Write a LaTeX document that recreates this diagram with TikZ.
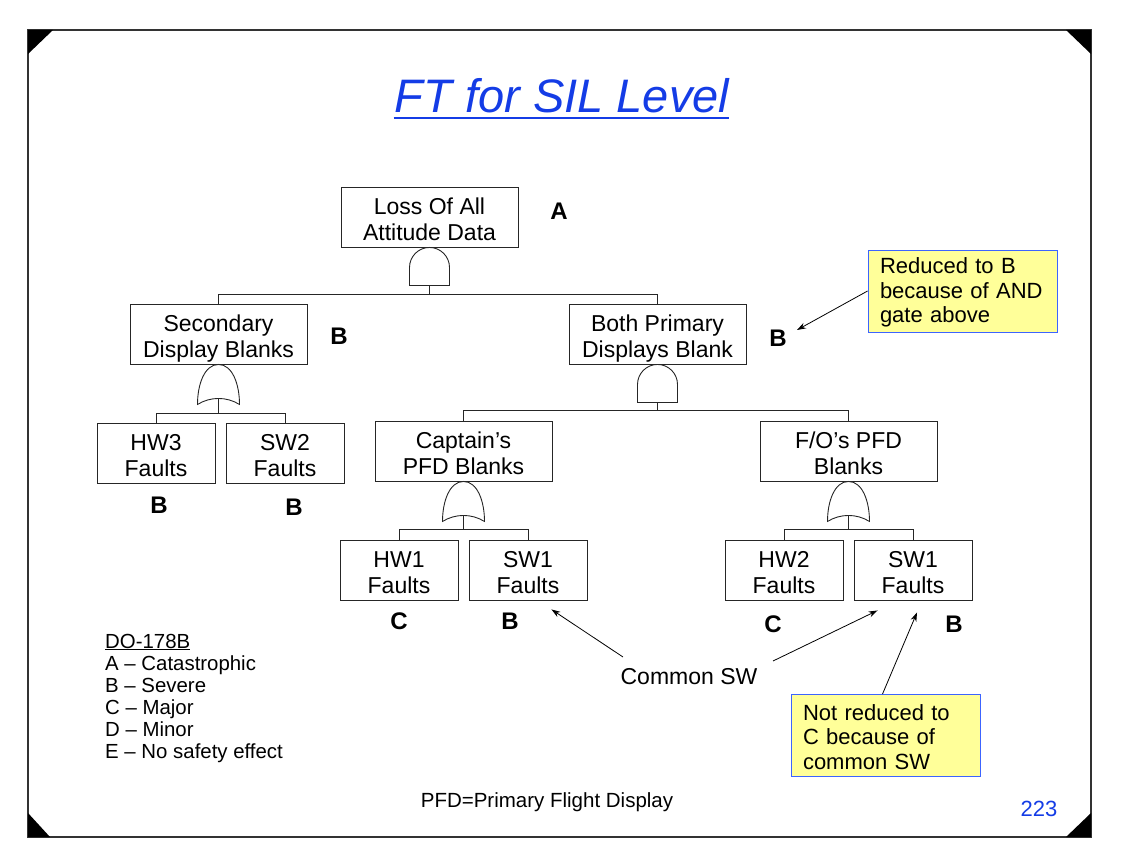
\documentclass[tikz,border=0pt]{standalone}
\usepackage{fontspec}
\setmainfont{Liberation Sans}
\usetikzlibrary{arrows.meta,calc}
\definecolor{ttlblue}{RGB}{20,60,230}
\definecolor{callfill}{RGB}{255,255,153}
\definecolor{callbord}{RGB}{60,100,255}
\newcommand\hstr{\rule{0pt}{27.4pt}}
\newcommand\dstr{\rule[-6pt]{0pt}{6pt}}
\tikzset{
 ev/.style={draw=black!85, line width=0.9pt, minimum width=177pt, minimum height=60pt, inner sep=0pt, align=center, font=\fontsize{23}{26}\selectfont},
 bev/.style={ev, minimum width=118pt},
 lvl/.style={font=\fontsize{24}{26}\selectfont\bfseries, inner sep=0pt},
 conn/.style={draw=black!85, line width=0.9pt},
 note/.style={draw=callbord, fill=callfill, line width=0.9pt, minimum width=189pt, minimum height=82pt, text width=165pt, align=left, inner sep=0pt, font=\fontsize{22}{24.5}\selectfont},
 arr/.style={draw=black, line width=0.8pt, -{Stealth[length=9pt,width=6pt]}},
 legend/.style={anchor=base west, inner sep=0pt, font=\fontsize{20.4}{22}\selectfont},
 andgate/.pic={\draw[conn] (-20,38) -- (-20,20) .. controls (-20,9) and (-11,0) .. (0,0) .. controls (11,0) and (20,9) .. (20,20) -- (20,38) -- cycle; \coordinate (-out) at (0,38);},
 orgate/.pic={\draw[conn] (-21,40) .. controls (-21,20) and (-14,0) .. (0,0) .. controls (14,0) and (21,20) .. (21,40) .. controls (8,32) and (-8,32) .. cycle; \coordinate (-out) at (0,34);},
}
\begin{document}
\begin{tikzpicture}[x=1pt,y=-1pt]
\useasboundingbox (0,0) rectangle (1122,867);
% frame
\draw[line width=2pt, black!80] (28,30) rectangle (1091,837);
\fill (28,30) -- (53,30) -- (28,54) -- cycle;
\fill (1091,30) -- (1066,30) -- (1091,54) -- cycle;
\fill (1091,837) -- (1066,837) -- (1091,813) -- cycle;
\fill (28,837) -- (50,837) -- (28,813) -- cycle;
% title
\node[anchor=base, inner sep=0pt, text=ttlblue, font=\fontsize{47}{50}\selectfont\itshape] (title) at (562,112) {FT for SIL Level};
\draw[ttlblue, line width=2.5pt] ($(title.base west)+(-1,6)$) -- ($(title.base east)+(0,6)$);
% events
\node[ev] (loss) at (429.5,217) {\hstr Loss Of All\\Attitude Data\dstr};
\node[ev] (sec) at (218.5,334) {\hstr Secondary\\Display Blanks\dstr};
\node[ev] (both) at (657.5,334) {\hstr Both Primary\\Displays Blank\dstr};
\node[bev] (hw3) at (156,453) {\hstr HW3\\Faults\dstr};
\node[bev] (sw2) at (285,453) {\hstr SW2\\Faults\dstr};
\node[ev] (capt) at (463.5,451) {\hstr Captain’s\\PFD Blanks\dstr};
\node[ev] (fo) at (848.5,451) {\hstr F/O’s PFD\\Blanks\dstr};
\node[bev] (hw1) at (399,570) {\hstr HW1\\Faults\dstr};
\node[bev] (sw1a) at (528,570) {\hstr SW1\\Faults\dstr};
\node[bev] (hw2) at (784,570) {\hstr HW2\\Faults\dstr};
\node[bev] (sw1b) at (913,570) {\hstr SW1\\Faults\dstr};
% gates
\pic (g0) at (loss.south) {andgate};
\pic (g1) at (sec.south) {orgate};
\pic (g2) at (both.south) {andgate};
\pic (g3) at (capt.south) {orgate};
\pic (g4) at (fo.south) {orgate};
% connectors
\draw[conn] (g0-out) -- ++(0,9) -| (sec.north);
\draw[conn] (g0-out) -- ++(0,9) -| (both.north);
\draw[conn] (g1-out) -- ++(0,15) -| (hw3.north);
\draw[conn] (g1-out) -- ++(0,15) -| (sw2.north);
\draw[conn] (g2-out) -- ++(0,8) -| (capt.north);
\draw[conn] (g2-out) -- ++(0,8) -| (fo.north);
\draw[conn] (g3-out) -- ++(0,14) -| (hw1.north);
\draw[conn] (g3-out) -- ++(0,14) -| (sw1a.north);
\draw[conn] (g4-out) -- ++(0,14) -| (hw2.north);
\draw[conn] (g4-out) -- ++(0,14) -| (sw1b.north);
% levels
\node[lvl] (lA) at (559,211) {A};
\node[lvl] (lB1) at (339,336) {B};
\node[lvl] (lB2) at (778,338) {B};
\node[lvl] (lB3) at (159,505) {B};
\node[lvl] (lB4) at (294,507) {B};
\node[lvl] (lC1) at (399,621) {C};
\node[lvl] (lB5) at (510,621) {B};
\node[lvl] (lC2) at (773,624) {C};
\node[lvl] (lB6) at (954,624) {B};
% callouts
\node[note] (call1) at (962.5,291) {\rule{0pt}{19pt}Reduced to B\\because of AND\\gate above};
\node[note] (call2) at (885.5,735.5) {\rule{0pt}{19pt}Not reduced to\\C because of\\common SW};
\coordinate (bpt) at (797,330);
\draw[arr] (call1.west) -- (bpt);
\coordinate (e3) at ($(sw1b.south)+(4,12)$);
\draw[arr] ($(call2.north)+(-3,0)$) -- (e3);
% common SW
\node[inner sep=0pt, font=\fontsize{23}{26}\selectfont] (csw) at (689,677) {Common SW};
\coordinate (s1) at (623,657);
\coordinate (s2) at (773,661);
\coordinate (e1) at ($(sw1a.south east)+(-36,9)$);
\coordinate (e2) at ($(sw1b.south west)+(24,10)$);
\draw[arr] (s1) -- (e1);
\draw[arr] (s2) -- (e2);
% legend
\node[legend] (lg1) at (105,648) {\underline{DO-178B}};
\node[legend] (lg2) at (105,670) {A – Catastrophic};
\node[legend] (lg3) at (105,692) {B – Severe};
\node[legend] (lg4) at (105,714) {C – Major};
\node[legend] (lg5) at (105,736) {D – Minor};
\node[legend] (lg6) at (105,758) {E – No safety effect};
% footer
\node[inner sep=0pt, font=\fontsize{20.5}{24}\selectfont] (pfd) at (547,802) {PFD=Primary Flight Display};
\node[inner sep=0pt, text=ttlblue, font=\fontsize{22}{26}\selectfont] (pg) at (1039,809) {223};
\end{tikzpicture}
\end{document}
